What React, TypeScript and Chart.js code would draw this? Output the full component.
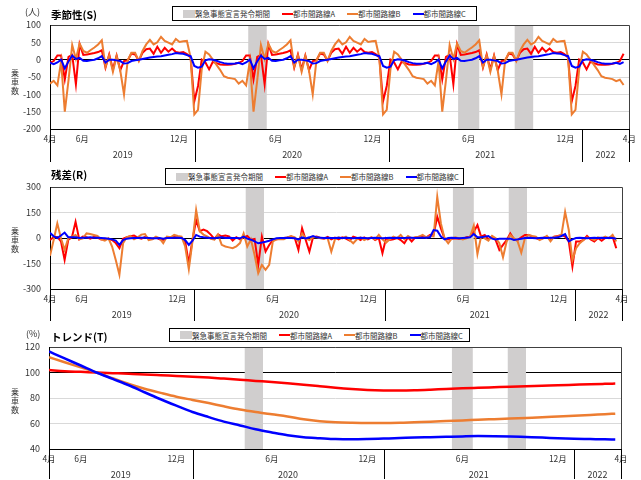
import React, { useEffect, useRef } from "react";
import { Chart, registerables } from "chart.js";

Chart.register(...registerables);

// ---------- dates / categories ----------
const START = Date.UTC(2019, 3, 1);
const DAY = 86400000;
const dayOf = (y: number, m: number, d: number) => Math.round((Date.UTC(y, m - 1, d) - START) / DAY);
const AXIS_END = dayOf(2022, 4, 1);

const WEEK_COUNT = 156; // weekly observations from 2019-04-01
const weekDays = Array.from({ length: WEEK_COUNT }, (_, i) => i * 7);
// trend: month starts Apr 2019 .. Mar 2022, then last observation week
const trendDays = [...Array.from({ length: 36 }, (_, i) => dayOf(2019, 4 + i, 1)), weekDays[WEEK_COUNT - 1]];

const monthTicks: [number, number][] = [
  [2019, 4], [2019, 6], [2019, 12], [2020, 6], [2020, 12], [2021, 6], [2021, 12], [2022, 4],
];
const years = [2019, 2020, 2021, 2022];
const emergencyPeriods: [string, string][] = [
  ["2020-04-10", "2020-05-15"],
  ["2021-05-12", "2021-06-21"],
  ["2021-08-27", "2021-10-01"],
];

const SERIES_NAMES = ["都市間路線A", "都市間路線B", "都市間路線C"];
const BAND_NAME = "緊急事態宣言発令期間";

// ---------- seasonal (S), weekly, cycles ----------
const sA_1 = [-9, -4, 12, 12, -57, 8, 14, -71, 45, 14, 15, 17, 19, 22, 27, -23, 15, -28, 12, -30, -4, -2, 18, 15, -3, 20, 30, 32, 17, 37, 20, 34, 23, 32, 22, 20, 22, 16, 6, -120, -76, 0, -8, -28, -6, -10, -14, -15, -15, -14, -12];
const sA_2 = [-9, -4, 12, 12, -57, 8, 14, -71, 45, 14, 15, 17, 19, 22, 27, -23, 15, -28, 12, -30, -4, -2, 18, 15, -3, 20, 30, 32, 17, 37, 20, 34, 23, 32, 22, 20, 22, 16, 6, -120, -76, 0, -8, -28, -6, -10, -14, -15, -15, -14, -12];
const sA_3 = [-9, -4, 12, 12, -57, 8, 14, -71, 45, 14, 15, 17, 19, 22, 27, -23, 15, -28, 12, -30, -4, -2, 18, 15, -3, 20, 30, 32, 17, 37, 20, 34, 23, 32, 22, 20, 22, 16, 6, -120, -76, 0, -8, -28, -6, -10, -14, -15, -15, -14, -12];
const sA_4 = [-9, -4, 17];

const sB_1 = [-69, -61, -74, -5, -150, -60, 42, 2, 46, 25, 20, 28, 35, 44, 56, -20, 12, -35, 10, -32, -100, -2, 20, 20, -4, 25, 44, 57, 44, 50, 66, 54, 49, 44, 60, 51, 53, 54, 6, -158, -145, -28, 23, 15, 0, -15, -30, -48, -52, -54, -56];
const sB_2 = [-69, -61, -74, -5, -150, -60, 42, 2, 46, 25, 20, 28, 35, 44, 56, -20, 12, -35, 10, -32, -100, -2, 20, 20, -4, 25, 44, 57, 44, 50, 66, 54, 49, 44, 60, 51, 53, 54, 6, -158, -145, -28, 23, 15, 0, -15, -30, -48, -52, -54, -56];
const sB_3 = [-69, -61, -74, -5, -150, -60, 42, 2, 46, 25, 20, 28, 35, 44, 56, -20, 12, -35, 10, -32, -100, -2, 20, 20, -4, 25, 44, 57, 44, 50, 66, 54, 49, 44, 60, 51, 53, 54, 6, -158, -145, -28, 23, 15, 0, -15, -30, -48, -52, -54, -56];
const sB_4 = [-62, -58, -73];

const sC_1 = [-9, -13, -8, 0, -25, -5, 12, 2, 5, -3, -4, -2, 0, 4, 10, -8, 0, 0, -2, -4, -11, -10, -4, -2, 0, 2, 4, 6, 8, 9, 10, 12, 14, 16, 19, 18, 17, 13, 10, -18, -23, -20, -2, 1, 0, -3, -7, -10, -12, -12, -11];
const sC_2 = [-9, -13, -8, 0, -25, -5, 12, 2, 5, -3, -4, -2, 0, 4, 10, -8, 0, 0, -2, -4, -11, -10, -4, -2, 0, 2, 4, 6, 8, 9, 10, 12, 14, 16, 19, 18, 17, 13, 10, -18, -23, -20, -2, 1, 0, -3, -7, -10, -12, -12, -11];
const sC_3 = [-9, -13, -8, 0, -25, -5, 12, 2, 5, -3, -4, -2, 0, 4, 10, -8, 0, 0, -2, -4, -11, -10, -4, -2, 0, 2, 4, 6, 8, 9, 10, 12, 14, 16, 19, 18, 17, 13, 10, -18, -23, -20, -2, 1, 0, -3, -7, -10, -12, -12, -11];
const sC_4 = [-9, -12, -7];

const sA = [...sA_1, ...sA_2, ...sA_3, ...sA_4];
const sB = [...sB_1, ...sB_2, ...sB_3, ...sB_4];
const sC = [...sC_1, ...sC_2, ...sC_3, ...sC_4];

// ---------- residual (R), weekly ----------
const rA = [
  -12, 4, 6, -20, -129, -10, 4, 95, -8, 8,
  5, -4, 6, 3, -8, -4, -6, -12, -30, -60,
  -5, 4, 10, 15, 2, -4, 6, 0, -6, 4,
  -8, -12, 5, 4, 6, 3, 2, -20, -150, -10,
  105, 40, 50, 40, 20, -5, 20, 10, 15, 10,
  -15, 5, -8, 4, 12, -10, -5, -158, 8, -80,
  -41, -12, -8, -4, 0, 3, 8, 0, -70, 57,
  -12, -80, 4, 8, 0, -4, 6, -8, 2, -8,
  4, -4, -15, 8, 0, -12, 4, -8, 4, -12,
  0, -90, 0, -12, -8, 0, -12, -31, 4, -20,
  4, 8, 8, 4, 18, 20, 125, 57, -2, -8,
  -4, -2, -4, -6, 4, 8, 37, 76, 8, 18,
  -8, 8, -12, -70, -41, -12, 27, -8, -12, 4,
  18, 18, 8, 0, -8, 0, 8, -8, 8, 12,
  18, 8, -20, -168, -20, -20, -12, 12, -8, -20,
  0, -16, 0, 0, 8, -60,
];
const rB = [
  -105, -12, 86, -2, -70, -2, 8, 18, -8, -2,
  27, 23, 18, 12, -8, -16, -2, -50, -129, -216,
  -31, 4, 12, -8, 4, 20, 23, -12, -8, 8,
  -2, -31, 8, 4, 18, 12, 8, -50, -183, -20,
  165, 40, 20, 10, -5, -10, 20, -40, -50, -55,
  -60, -50, -30, 27, -50, -8, -100, -207, -158, -187,
  -158, -20, -8, -8, -8, 4, 12, 4, -20, 27,
  -2, -12, 4, 4, -2, -2, -2, -80, -8, 4,
  -2, 8, -12, -31, -8, 4, -12, -2, 4, -8,
  18, -8, -27, -8, 8, -2, 18, -8, 12, -2,
  4, 8, 18, 4, 12, 10, 242, 86, -2, -31,
  -2, 4, -2, -8, -2, 8, 72, -94, 8, -2,
  -16, 12, -2, -31, -113, -20, 18, -2, -20, -86,
  -2, 18, 12, 8, -12, -2, 12, -20, 8, 8,
  18, 154, 47, -129, -60, -31, -12, 4, -2, -12,
  4, -2, 8, -2, 18, -20,
];
const rC = [
  31, 10, 0, 15, 32, 5, 4, 4, 0, 2,
  2, 4, 2, 2, 0, -2, -4, -8, -15, -41,
  -12, -4, -2, 0, 0, 2, 2, 0, -2, -2,
  0, -4, 0, 0, 2, 2, 0, -12, -41, -15,
  18, 8, 4, 2, 0, -2, 2, 4, 0, 2,
  0, 0, -2, 8, -4, -10, -20, -31, -27, -22,
  -16, -8, -2, 0, 0, 2, 0, -2, -8, 4,
  -2, 4, 12, 4, 2, 0, 2, 0, 0, 2,
  0, 2, 0, -2, 0, 2, 0, -2, 0, 2,
  0, -2, 0, 2, 0, 2, 0, 0, 2, 2,
  0, 2, 2, 2, 4, 47, 43, 8, -8, 0,
  2, 0, -2, 0, 2, 4, 23, 4, 4, 8,
  12, -4, -8, -4, -4, -4, -4, -12, -8, -4,
  0, 2, 0, -2, 0, 2, 0, 2, 2, 4,
  12, 23, -20, -8, 0, 2, 0, -2, 0, 2,
  0, 2, 0, 2, 0, -4,
];

// ---------- trend (T), % ----------
const tA = [102, 101, 100.5, 100, 99.5, 99, 98.5, 97.9, 97.3, 96.7, 96, 95.2, 94.3, 93.4, 92.5, 91.5, 90.4, 89.2, 88, 87, 86.3, 85.9, 85.8, 86, 86.5, 87.1, 87.6, 88, 88.4, 88.8, 89.2, 89.6, 90, 90.4, 90.8, 91.1, 91.3];
const tB = [112, 108, 104, 100, 95.5, 91, 87.3, 84, 81, 78.5, 76, 73.5, 71, 69, 67.2, 65.5, 63.3, 61.8, 61, 60.6, 60.4, 60.4, 60.6, 61, 61.4, 61.9, 62.4, 62.9, 63.4, 63.9, 64.4, 64.9, 65.5, 66.1, 66.7, 67.3, 67.7];
const tC = [116.5, 111, 105.5, 100, 95, 90, 84.5, 79, 74, 69, 65, 61.5, 58.5, 55.5, 53, 50.8, 49.3, 48.5, 47.8, 47.6, 47.8, 48.2, 48.6, 49, 49.3, 49.6, 49.9, 50.1, 50, 49.8, 49.4, 49, 48.4, 48, 47.8, 47.6, 47.5];

// ---------- styling ----------
const FONT = '"Noto Sans CJK JP", "Noto Sans", sans-serif';
const TEXT = "#333333";
const BAND_COLOR = "#D0CECE";
const COLORS = ["#FF0000", "#ED7D31", "#0000FF"];

const toDay = (s: string) => {
  const [y, m, d] = s.split("-").map(Number);
  return dayOf(y, m, d);
};
const monthTickDays = monthTicks.map(([y, m]) => dayOf(y, m, 1));
const monthLabel = (v: number) => {
  const i = monthTickDays.indexOf(v);
  return i >= 0 ? `${monthTicks[i][1]}月` : "";
};

const bandPlugin = {
  id: "bandsAndFrame",
  beforeDatasetsDraw(chart: any) {
    const { ctx, chartArea: a, scales } = chart;
    const x = scales.x;
    ctx.save();
    ctx.fillStyle = BAND_COLOR;
    emergencyPeriods.forEach(([s, e]) => {
      const x0 = x.getPixelForValue(toDay(s));
      const x1 = x.getPixelForValue(toDay(e));
      ctx.fillRect(x0, a.top, x1 - x0, a.bottom - a.top);
    });
    ctx.lineWidth = 1;
    ctx.strokeStyle = "#404040";
    ctx.beginPath();
    ctx.moveTo(a.left, Math.round(a.top) + 0.5);
    ctx.lineTo(Math.round(a.right) + 0.5, Math.round(a.top) + 0.5);
    ctx.lineTo(Math.round(a.right) + 0.5, a.bottom);
    ctx.stroke();
    ctx.strokeStyle = "#000000";
    ctx.beginPath();
    ctx.moveTo(Math.round(a.left) + 0.5, a.top);
    ctx.lineTo(Math.round(a.left) + 0.5, Math.round(a.bottom) + 0.5);
    ctx.lineTo(a.right, Math.round(a.bottom) + 0.5);
    ctx.stroke();
    ctx.restore();
  },
  afterDraw(chart: any) {
    const { ctx, chartArea: a, scales } = chart;
    const x = scales.x;
    const bottom = chart.height - 1;
    ctx.save();
    ctx.strokeStyle = "#000000";
    ctx.lineWidth = 1;
    const seps = [a.left, a.right, ...years.slice(1).map((y) => x.getPixelForValue(dayOf(y, 1, 1)))];
    seps.forEach((px) => {
      const p = Math.round(px) + 0.5;
      ctx.beginPath();
      ctx.moveTo(p, a.bottom);
      ctx.lineTo(p, bottom);
      ctx.stroke();
    });
    ctx.fillStyle = TEXT;
    ctx.font = `9px ${FONT}`;
    ctx.textAlign = "center";
    ctx.textBaseline = "middle";
    years.forEach((y) => {
      const s = Math.max(0, dayOf(y, 1, 1));
      const e = Math.min(AXIS_END, dayOf(y + 1, 1, 1));
      ctx.fillText(String(y), (x.getPixelForValue(s) + x.getPixelForValue(e)) / 2, a.bottom + 26);
    });
    ctx.restore();
  },
};

type PanelCfg = {
  title: string;
  unit: string;
  top: number;
  height: number;
  plot: { left: number; right: number; top: number; bottom: number };
  yMin: number;
  yMax: number;
  yStep: number;
  base: number;
  xs: number[];
  series: number[][];
  smooth: boolean;
  legend: { left: number; top: number; width: number; height: number };
  titleY: number;
  unitX: number;
  yTitleY: number;
};

const PANELS: PanelCfg[] = [
  {
    title: "季節性(S)", unit: "(人)", top: 0, height: 163,
    plot: { left: 50, right: 630, top: 25, bottom: 129 },
    yMin: -200, yMax: 100, yStep: 50, base: 0, xs: weekDays, series: [sA, sB, sC], smooth: false,
    legend: { left: 172, top: 6, width: 305, height: 15 }, titleY: 15, unitX: 25, yTitleY: 81,
  },
  {
    title: "残差(R)", unit: "", top: 163, height: 159,
    plot: { left: 50, right: 622, top: 187, bottom: 289 },
    yMin: -300, yMax: 300, yStep: 150, base: 0, xs: weekDays, series: [rA, rB, rC], smooth: false,
    legend: { left: 165, top: 5, width: 299, height: 17 }, titleY: 12, unitX: 25, yTitleY: 76,
  },
  {
    title: "トレンド(T)", unit: "(%)", top: 322, height: 158,
    plot: { left: 49, right: 621, top: 347, bottom: 449 },
    yMin: 40, yMax: 120, yStep: 20, base: 100, xs: trendDays, series: [tA, tB, tC], smooth: true,
    legend: { left: 169, top: 6, width: 301, height: 14 }, titleY: 15, unitX: 26, yTitleY: 78,
  },
];

function Legend({ cfg }: { cfg: PanelCfg }) {
  const item = (marker: React.ReactNode, text: string, gap: number) => (
    <div style={{ display: "flex", alignItems: "center", marginRight: gap }}>
      {marker}
      <span style={{ whiteSpace: "nowrap" }}>{text}</span>
    </div>
  );
  return (
    <div
      style={{
        position: "absolute", left: cfg.legend.left, top: cfg.legend.top,
        width: cfg.legend.width, height: cfg.legend.height, boxSizing: "border-box",
        border: "1px solid #000", display: "flex", alignItems: "center", paddingLeft: 10,
        fontFamily: FONT, fontSize: 7.5, lineHeight: "9px", color: TEXT, background: "#fff",
      }}
    >
      {item(<div style={{ width: 12, height: 8, background: BAND_COLOR }} />, BAND_NAME, 12)}
      {SERIES_NAMES.map((n, i) =>
        <React.Fragment key={n}>
          {item(<div style={{ width: 11, height: 2, background: COLORS[i] }} />, n, 12)}
        </React.Fragment>
      )}
    </div>
  );
}

function Panel({ cfg }: { cfg: PanelCfg }) {
  const ref = useRef<HTMLCanvasElement | null>(null);
  useEffect(() => {
    if (!ref.current) return;
    const p = cfg.plot;
    const ds = cfg.series.map((vals, i) => ({
      label: SERIES_NAMES[i],
      data: vals.map((v, j) => ({ x: cfg.xs[j], y: v })),
      borderColor: COLORS[i],
      backgroundColor: COLORS[i],
      borderWidth: cfg.smooth ? 2.5 : 2,
      pointRadius: 0,
      tension: cfg.smooth ? 0.4 : 0,
      cubicInterpolationMode: cfg.smooth ? "monotone" : "default",
      fill: false,
    }));
    const chart = new Chart(ref.current, {
      type: "line",
      data: { datasets: [ds[2], ds[1], ds[0]] as any },
      options: {
        responsive: false,
        animation: false,
        devicePixelRatio: 1,
        layout: { padding: { left: 0, right: 641 - p.right, top: p.top - cfg.top, bottom: 0 } },
        plugins: { legend: { display: false }, tooltip: { enabled: false }, title: { display: false } },
        scales: {
          x: {
            type: "linear",
            min: 0,
            max: AXIS_END,
            grid: { display: false, drawTicks: false },
            border: { display: true, color: "#000" },
            afterBuildTicks: (s: any) => {
              s.ticks = monthTickDays.map((v) => ({ value: v }));
            },
            afterFit: (s: any) => {
              s.height = cfg.height - (p.bottom - cfg.top);
            },
            ticks: {
              autoSkip: false,
              maxRotation: 0,
              padding: 5,
              color: TEXT,
              font: { size: 8.5, family: FONT },
              callback: (v: any) => monthLabel(Number(v)),
            },
          },
          y: {
            min: cfg.yMin,
            max: cfg.yMax,
            afterFit: (s: any) => {
              s.width = p.left;
            },
            grid: {
              drawTicks: false,
              lineWidth: 1,
              color: (c: any) => (c.tick && c.tick.value === cfg.base ? "#000000" : "#D9D9D9"),
            },
            border: { display: true, color: "#000" },
            ticks: { stepSize: cfg.yStep, padding: 9, color: TEXT, font: { size: 9, family: FONT } },
          },
        },
      } as any,
      plugins: [bandPlugin],
    });
    return () => chart.destroy();
  }, [cfg]);

  const yTitleStyle: React.CSSProperties = {
    position: "absolute", left: 10, top: cfg.yTitleY - 13, width: 10,
    fontFamily: FONT, fontSize: 8, lineHeight: "9px", color: TEXT, textAlign: "center",
  };
  return (
    <div style={{ position: "absolute", left: 0, top: cfg.top, width: 641, height: cfg.height }}>
      <canvas ref={ref} width={641} height={cfg.height} style={{ display: "block", width: 641, height: cfg.height }} />
      {cfg.unit && (
        <div style={{ position: "absolute", left: cfg.unitX, top: cfg.titleY - 8, fontFamily: FONT, fontSize: 9, lineHeight: "10px", color: TEXT }}>
          {cfg.unit}
        </div>
      )}
      <div style={{ position: "absolute", left: 51, top: cfg.titleY - 7, fontFamily: FONT, fontSize: 10.5, fontWeight: 700, lineHeight: "13px", color: "#000" }}>
        {cfg.title}
      </div>
      <div style={yTitleStyle}>
        {"乗車数".split("").map((ch, i) => (
          <div key={i}>{ch}</div>
        ))}
      </div>
      <Legend cfg={cfg} />
    </div>
  );
}

export default function App() {
  return (
    <div style={{ position: "fixed", left: 0, top: 0, width: 641, height: 480, background: "#fff", overflow: "hidden" }}>
      {PANELS.map((cfg, i) => (
        <Panel key={i} cfg={cfg} />
      ))}
    </div>
  );
}
